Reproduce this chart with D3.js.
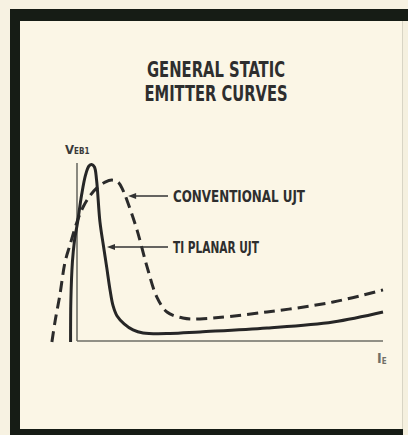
<!DOCTYPE html>
<html><head><meta charset="utf-8">
<script src="https://cdn.jsdelivr.net/npm/d3@7/dist/d3.min.js"></script>
<style>html,body{margin:0;padding:0;background:#f7f2e2;}svg{display:block;}</style>
</head><body>
<script>
// ---- data (x: emitter current, y: V_EB1, arbitrary units 0..100) ----
const titleLines = ["GENERAL STATIC", "EMITTER CURVES"];
const seriesNames = ["CONVENTIONAL UJT", "TI PLANAR UJT"];
const planarX = [-2.1,-2.0,-1.5,-0.8,0.2,1.5,2.8,3.9,4.8,5.7,6.4,7.5,8.6,9.7,10.8,11.8,13.1,15.4,18.3,21.6,30.4,40.2,62.1,83.7,100];
const planarY = [-0.6,23.0,44.4,56.7,66.9,82.0,93.3,98.3,99.2,97.8,90.4,66.9,53.9,41.5,28.7,19.7,14.0,9.6,6.2,4.5,4.2,5.1,7.3,10.7,16.3];
const convX = [-8.2,-7.2,-5.6,-3.9,-2.3,0,2.0,4.2,6.5,9.2,11.4,13.4,15.0,16.3,19.6,22.9,26.1,29.4,34.6,40.2,62.1,83.7,100];
const convY = [-0.6,10.7,25.8,44.4,53.9,66.9,75.3,81.5,86.0,89.3,90.4,89.3,84.8,79.2,62.4,41.6,24.7,16.3,12.9,12.4,16.3,21.9,28.7];
// annotation arrow tips (data units)
const convArrowTip = [16.7, 81.5];
const planarArrowTip = [9.8, 52.8];

const W = 408, H = 435;
const svg = d3.select("body").append("svg").attr("width", W).attr("height", H);

// frame
svg.append("rect").attr("x",0).attr("y",0).attr("width",W).attr("height",H).attr("fill","#f7f2e2");
svg.append("rect").attr("x",10).attr("y",9).attr("width",W-10).attr("height",H-9).attr("fill","#161c15");
svg.append("rect").attr("x",20).attr("y",21).attr("width",383).attr("height",408).attr("fill","#fbf6e6");
svg.append("rect").attr("x",403).attr("y",21).attr("width",5).attr("height",414).attr("fill","#f5f0df");
svg.append("line").attr("x1",402.5).attr("x2",402.5).attr("y1",21).attr("y2",429).attr("stroke","#d8d4c4").attr("stroke-width",1);

const font = "'Liberation Sans Narrow','DejaVu Sans Condensed','Arial Narrow',sans-serif";

// title
const tw = [138, 143];
titleLines.forEach((t,i)=>{
  svg.append("text").attr("x",216).attr("y",77 + i*24)
    .attr("text-anchor","middle").attr("font-family",font).attr("font-weight","bold")
    .attr("font-size",22).attr("fill","#2e2e2e")
    .attr("textLength",tw[i]).attr("lengthAdjust","spacingAndGlyphs").text(t);
});

// scales
const x = d3.scaleLinear().domain([0,100]).range([77,383]);
const y = d3.scaleLinear().domain([0,100]).range([341,163]);

// axes (plain lines, no ticks)
const g = svg.append("g");
g.append("line").attr("x1",x(0)).attr("x2",x(0)).attr("y1",y(100)).attr("y2",y(0))
  .attr("stroke","#6e6e66").attr("stroke-width",1.6);
g.append("line").attr("x1",x(0)).attr("x2",x(100)).attr("y1",y(0)).attr("y2",y(0))
  .attr("stroke","#6e6e66").attr("stroke-width",1.6);

// axis labels
const vl = svg.append("text").attr("x",65).attr("y",154).attr("font-family",font).attr("font-weight","bold")
  .attr("fill","#3a3a3a").attr("font-size",13);
vl.append("tspan").text("V");
vl.append("tspan").attr("font-size",8).attr("dy",0).text("EB1");
const il = svg.append("text").attr("x",377).attr("y",363).attr("font-family",font).attr("font-weight","bold")
  .attr("fill","#707068").attr("font-size",14);
il.append("tspan").text("I");
il.append("tspan").attr("font-size",8).attr("dy",1).text("E");

// curves
const line = d3.line().x(d=>x(d[0])).y(d=>y(d[1])).curve(d3.curveCatmullRom.alpha(0.5));
const conv = convX.map((v,i)=>[v,convY[i]]);
const planar = planarX.map((v,i)=>[v,planarY[i]]);
svg.append("path").attr("d",line(conv)).attr("fill","none").attr("stroke","#2b2b2b")
  .attr("stroke-width",3).attr("stroke-dasharray","11,6");
svg.append("path").attr("d",line(planar)).attr("fill","none").attr("stroke","#262626")
  .attr("stroke-width",3).attr("stroke-linejoin","round");

// annotations
const ann = [[seriesNames[0], convArrowTip, 132], [seriesNames[1], planarArrowTip, 86]];
ann.forEach(([t,tip,len])=>{
  const ty = y(tip[1]);
  const tx = x(tip[0]);
  svg.append("line").attr("x1",168).attr("x2",tx+6).attr("y1",ty).attr("y2",ty)
    .attr("stroke","#333").attr("stroke-width",1.5);
  svg.append("path").attr("d",`M${tx},${ty} L${tx+8},${ty-3} L${tx+8},${ty+3} Z`).attr("fill","#333");
  svg.append("text").attr("x",173).attr("y",ty+6).attr("font-family",font).attr("font-weight","bold")
    .attr("font-size",15).attr("fill","#2e2e2e")
    .attr("textLength",len).attr("lengthAdjust","spacingAndGlyphs").text(t);
});
</script>
</body></html>
